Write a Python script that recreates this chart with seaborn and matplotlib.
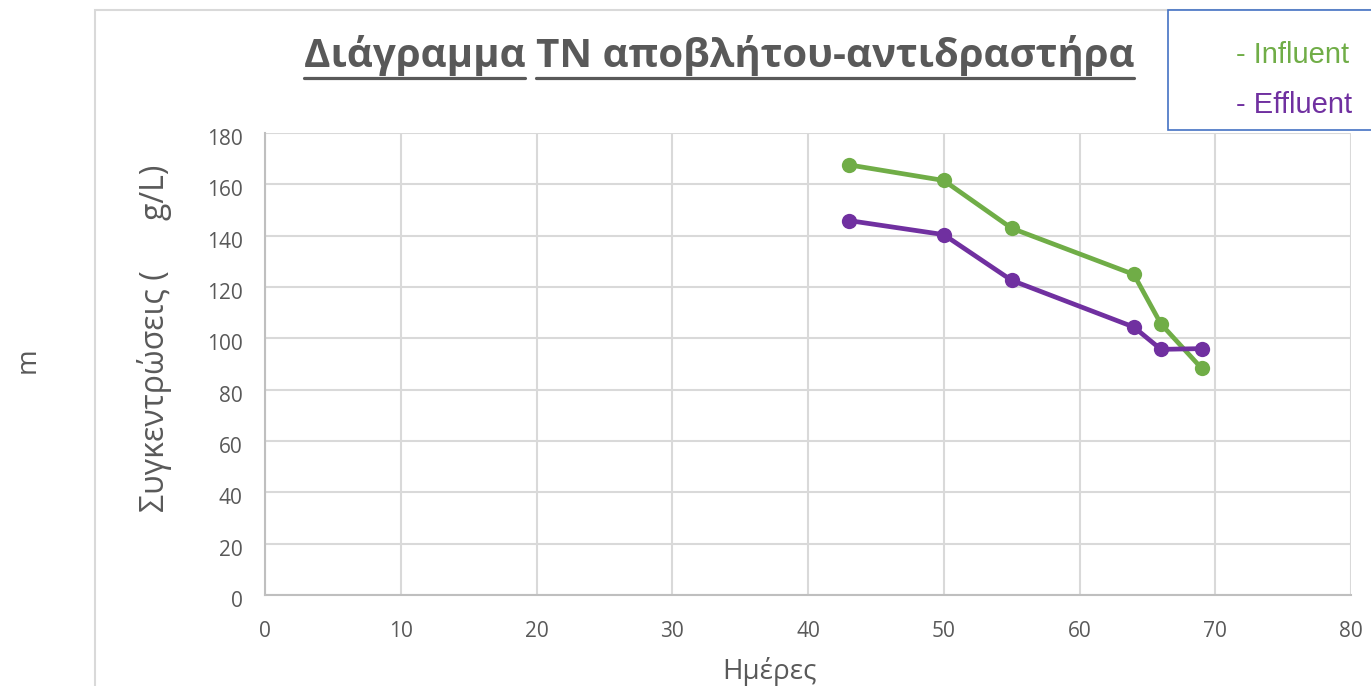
import matplotlib
matplotlib.use("Agg")
import matplotlib.pyplot as plt
from matplotlib.patches import Rectangle
from matplotlib.lines import Line2D
from matplotlib.transforms import ScaledTranslation
import seaborn as sns
import pandas as pd

# Sampling days and total-nitrogen concentrations
days = [43, 50, 55, 64, 66, 69]
influent = [167.6, 161.5, 142.9, 124.9, 105.6, 88.3]
effluent = [145.9, 140.4, 122.6, 104.4, 95.7, 96.0]
series_names = ["Influent", "Effluent"]
series_colors = ["#70AD47", "#7030A0"]

x_ticks = [0, 10, 20, 30, 40, 50, 60, 70, 80]
y_ticks = [0, 20, 40, 60, 80, 100, 120, 140, 160, 180]

title_first = "Διάγραμμα"
title_rest = "TN αποβλήτου-αντιδραστήρα"
x_label = "Ημέρες"
y_label = "Συγκεντρώσεις (      g/L)"
unit_prefix = "m"

df = pd.DataFrame({
    "day": days * 2,
    "value": influent + effluent,
    "series": [series_names[0]] * len(days) + [series_names[1]] * len(days),
})

sns.set_theme(style="white")
plt.rcParams["font.family"] = ["Open Sans", "DejaVu Sans"]

W, H = 1371, 686
fig = plt.figure(figsize=(W / 100, H / 100), dpi=100)
ax = fig.add_axes([265 / W, 1 - 595 / H, (1351 - 265) / W, (595 - 133) / H])

text_gray = "#595959"
grid_gray = "#D9D9D9"

sns.lineplot(data=df, x="day", y="value", hue="series", palette=series_colors,
             hue_order=series_names, marker="o", markersize=11, linewidth=3.4,
             markeredgewidth=0, legend=False, ax=ax, clip_on=False)

ax.set_xlim(0, 80)
ax.set_ylim(0, 180)
ax.set_xticks(x_ticks)
ax.set_yticks(y_ticks)
ax.grid(True, color=grid_gray, linewidth=1.5)
ax.set_axisbelow(True)
for side in ["top", "right"]:
    ax.spines[side].set_visible(False)
for side in ["left", "bottom"]:
    ax.spines[side].set_color("#BFBFBF")
    ax.spines[side].set_linewidth(1.5)
ax.tick_params(axis="both", length=0, labelsize=15, colors=text_gray)
ax.tick_params(axis="x", pad=19)
ax.tick_params(axis="y", pad=16)
ax.set_xlabel("")
ax.set_ylabel("")
for lab in ax.get_yticklabels():
    lab.set_transform(lab.get_transform() + ScaledTranslation(0, -0.04, fig.dpi_scale_trans))

# Axis titles
fig.text(769 / W, 1 - 672 / H, x_label, ha="center", va="center",
         fontsize=20, color=text_gray)
fig.text(154 / W, 1 - 338 / H, y_label, ha="center", va="center",
         rotation=90, fontsize=23, color=text_gray)
fig.text(28 / W, 1 - 360 / H, unit_prefix, ha="center", va="center",
         rotation=90, fontsize=20, color=text_gray)

# Chart area border (partially outside the canvas)
fig.patches.append(Rectangle((95 / W, -0.1), 1.2, 1 - 10 / H + 0.1,
                             transform=fig.transFigure, fill=False,
                             edgecolor=grid_gray, linewidth=1.5))

# Legend box
fig.patches.append(Rectangle((1168 / W, 1 - 130 / H), 0.2, 120 / H,
                             transform=fig.transFigure, facecolor="white",
                             edgecolor="#4472C4", linewidth=1.2))
for name, color, yy in zip(series_names, series_colors, [55, 105]):
    fig.text(1236 / W, 1 - yy / H, "- " + name, ha="left", va="center",
             fontsize=21, color=color, family=["Liberation Sans"])

# Title with underlines
title_y = 1 - 55 / H
full_title = title_first + " " + title_rest
t = fig.text(719 / W, title_y, full_title, ha="center", va="center",
             fontsize=29, fontweight="bold", color=text_gray)
fig.canvas.draw()
r = fig.canvas.get_renderer()
bb = t.get_window_extent(r)


def text_width(s):
    tmp = fig.text(0, 0, s, fontsize=29, fontweight="bold")
    w = tmp.get_window_extent(r).width
    tmp.remove()
    return w


w_first = text_width(title_first)
w_space = text_width(title_first + " " + "T") - text_width("T")
x0 = bb.x0
ul_y = (H - 78) / H
for a, b in [(x0, x0 + w_first), (x0 + w_space, bb.x1)]:
    fig.lines.append(Line2D([a / W, b / W], [ul_y, ul_y], transform=fig.transFigure,
                            color=text_gray, linewidth=2.3))

fig.savefig("out.png", dpi=100, facecolor="white")
